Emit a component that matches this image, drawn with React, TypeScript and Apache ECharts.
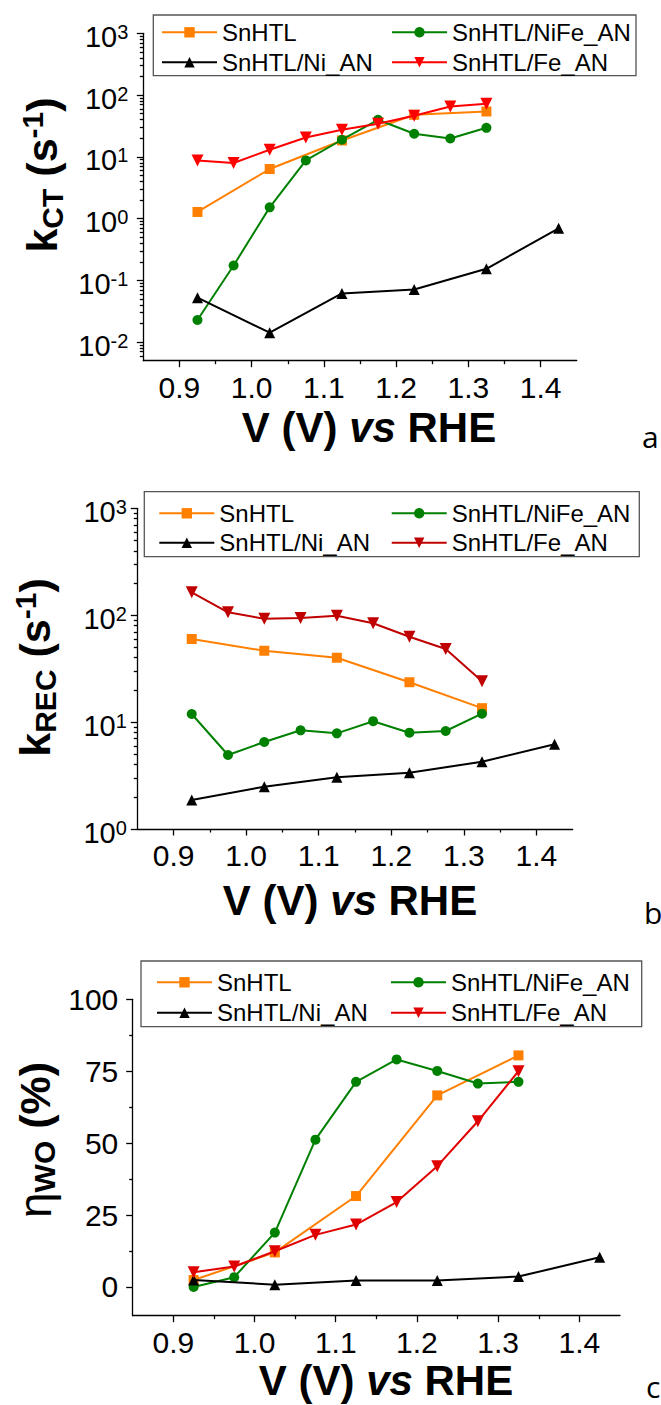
import React, { useEffect, useRef } from 'react';
import * as echarts from 'echarts';

// ---------- data ----------
const V_ALL = [0.925, 0.975, 1.025, 1.075, 1.125, 1.175, 1.225, 1.275, 1.325];
const V_HALF = [0.925, 1.025, 1.125, 1.225, 1.325];
const V_NI = [0.925, 1.025, 1.125, 1.225, 1.325, 1.425];

const SERIES_NAMES = ['SnHTL', 'SnHTL/NiFe_AN', 'SnHTL/Ni_AN', 'SnHTL/Fe_AN'];

// panel a: k_CT (s^-1)
const KCT_SNHTL = [1.28, 6.35, 18.4, 47.9, 54.2];
const KCT_NIFE = [0.0228, 0.174, 1.52, 8.75, 18.9, 39.8, 23.6, 19.8, 29.5];
const KCT_NI = [0.0524, 0.0142, 0.0615, 0.0713, 0.154, 0.697];
const KCT_FE = [8.75, 7.94, 13.0, 20.6, 27.4, 34.3, 46.1, 65.2, 72.1];

// panel b: k_REC (s^-1)
const KREC_SNHTL = [59.9, 46.5, 40.0, 23.6, 13.5];
const KREC_NIFE = [11.9, 4.92, 6.52, 8.38, 7.85, 10.2, 7.96, 8.26, 12.0];
const KREC_NI = [1.87, 2.49, 3.05, 3.36, 4.26, 6.2];
const KREC_FE = [163.7, 106.4, 92.7, 94.2, 98.9, 84.0, 62.9, 48.3, 24.1];

// panel c: eta_WO (%)
const ETA_SNHTL = [2.4, 12.0, 31.6, 66.6, 80.5];
const ETA_NIFE = [0, 3.4, 18.9, 51.2, 71.3, 79.1, 75.1, 70.7, 71.3];
const ETA_NI = [2.4, 0.8, 2.2, 2.2, 3.6, 10.3];
const ETA_FE = [5.1, 7.1, 12.4, 18.1, 21.7, 29.5, 42.0, 57.6, 75.0];

// ticks
const X_TICKS = [0.9, 1.0, 1.1, 1.2, 1.3, 1.4];
const X_MINOR = [0.95, 1.05, 1.15, 1.25, 1.35];
const LOG_TICKS_A = [0.01, 0.1, 1, 10, 100, 1000];
const LOG_TICKS_B = [1, 10, 100, 1000];
const ETA_TICKS = [0, 25, 50, 75, 100];
const ETA_MINOR = [12.5, 37.5, 62.5, 87.5];

// ---------- style ----------
const FONT = '"Liberation Sans", Arial, Helvetica, sans-serif';
const ORANGE = '#FF8000';
const GREEN = '#008000';
const BLACK = '#000000';
const RED_A = '#FF0000';
const RED_B = '#C00000';
const RED_C = '#E00000';

function logMinor(lo: number, hi: number): number[] {
  const out: number[] = [];
  for (let e = -3; e <= 3; e++) {
    for (let k = 2; k <= 9; k++) {
      const v = +(k * Math.pow(10, e)).toPrecision(3);
      if (v > lo && v < hi) out.push(v);
    }
  }
  return out;
}

const AXIS_LINE = { color: '#000', width: 1.3 };

const GRIDS = [
  { left: 143.3, top: 33.3, width: 433.4, height: 327.4 },
  { left: 137.3, top: 508.3, width: 435.4, height: 320.7 },
  { left: 132.7, top: 999.3, width: 487.3, height: 316.4 },
];

function xAxes(gi: number) {
  return [
    {
      type: 'value', gridIndex: gi, position: 'bottom', min: 0.85, max: 1.45,
      axisLine: { show: true, onZero: false, lineStyle: AXIS_LINE },
      axisTick: { show: true, inside: false, length: 6.5, customValues: X_TICKS, lineStyle: AXIS_LINE },
      axisLabel: {
        show: true, customValues: X_TICKS, margin: 11.5,
        formatter: (v: number) => v.toFixed(1),
        fontSize: 30, fontFamily: FONT, color: '#000',
      },
      splitLine: { show: false },
    },
    {
      type: 'value', gridIndex: gi, position: 'bottom', min: 0.85, max: 1.45,
      axisLine: { show: false, onZero: false },
      axisTick: { show: true, inside: false, length: 3.5, customValues: X_MINOR, lineStyle: AXIS_LINE },
      axisLabel: { show: false },
      splitLine: { show: false },
    },
  ];
}

const LOG_RICH = {
  b: { fontSize: 29, fontFamily: FONT, color: '#000', lineHeight: 30 },
  s: { fontSize: 20, fontFamily: FONT, color: '#000', lineHeight: 16, verticalAlign: 'top' },
};

function logLabel(v: number) {
  const e = Math.round(Math.log10(v));
  return `{b|10}{s|${e}}`;
}

function logYAxes(gi: number, min: number, max: number, ticks: number[], margin: number) {
  return [
    {
      type: 'log', logBase: 10, gridIndex: gi, position: 'left', min, max,
      axisLine: { show: true, onZero: false, lineStyle: AXIS_LINE },
      axisTick: { show: true, inside: false, length: 6.5, customValues: ticks, lineStyle: AXIS_LINE },
      axisLabel: {
        show: true, customValues: ticks, margin, formatter: logLabel,
        rich: LOG_RICH, padding: [7, 0, 0, 0],
      },
      splitLine: { show: false },
      minorSplitLine: { show: false },
    },
    {
      type: 'log', logBase: 10, gridIndex: gi, position: 'left', min, max,
      axisLine: { show: false, onZero: false },
      axisTick: { show: true, inside: false, length: 3.5, customValues: logMinor(min, max), lineStyle: AXIS_LINE },
      axisLabel: { show: false },
      splitLine: { show: false },
    },
  ];
}

function etaYAxes(gi: number) {
  return [
    {
      type: 'value', gridIndex: gi, position: 'left', min: -10, max: 100,
      axisLine: { show: true, onZero: false, lineStyle: AXIS_LINE },
      axisTick: { show: true, inside: false, length: 6.5, customValues: ETA_TICKS, lineStyle: AXIS_LINE },
      axisLabel: {
        show: true, customValues: ETA_TICKS, margin: 14.4,
        formatter: (v: number) => String(v),
        fontSize: 30, fontFamily: FONT, color: '#000',
      },
      splitLine: { show: false },
    },
    {
      type: 'value', gridIndex: gi, position: 'left', min: -10, max: 100,
      axisLine: { show: false, onZero: false },
      axisTick: { show: true, inside: false, length: 3.5, customValues: ETA_MINOR, lineStyle: AXIS_LINE },
      axisLabel: { show: false },
      splitLine: { show: false },
    },
  ];
}

function mk(name: string, xs: number[], ys: number[], gi: number, color: string,
  symbol: string, size: number, rotate = 0, z = 2) {
  return {
    type: 'line', name, xAxisIndex: gi * 2, yAxisIndex: gi * 2,
    data: xs.map((x, i) => [x, ys[i]]),
    symbol, symbolSize: size, symbolRotate: rotate, showAllSymbol: true,
    lineStyle: { color, width: 2 }, itemStyle: { color },
    emphasis: { disabled: true }, z, silent: true,
  };
}

function panelSeries(gi: number, sn: number[], nife: number[], ni: number[], fe: number[], red: string) {
  return [
    mk(SERIES_NAMES[0], V_HALF, sn, gi, ORANGE, 'rect', 10, 0, 2),
    mk(SERIES_NAMES[1], V_ALL, nife, gi, GREEN, 'circle', 10, 0, 3),
    mk(SERIES_NAMES[2], V_NI, ni, gi, BLACK, 'triangle', 11, 0, 4),
    mk(SERIES_NAMES[3], V_ALL, fe, gi, red, 'triangle', 12, 180, 5),
  ];
}

function legendCol(left: number, top: number, gap: number, names: string[], colors: string[]) {
  return {
    orient: 'vertical', left, top, padding: 0, itemGap: gap,
    itemWidth: 55, itemHeight: 13, selectedMode: false,
    textStyle: { fontSize: 24, fontFamily: FONT, color: '#000', lineHeight: 24 },
    data: names.map((n, i) => ({
      name: n,
      itemStyle: { color: colors[i] },
      lineStyle: { color: colors[i], width: 2 },
    })),
  };
}

function legendsFor(box: { col1: number; col2: number; row1: number; row2: number }, red: string) {
  const gap = box.row2 - box.row1 - 24;
  const top = box.row1 - 12;
  return [
    legendCol(box.col1, top, gap, [SERIES_NAMES[0], SERIES_NAMES[2]], [ORANGE, BLACK]),
    legendCol(box.col2, top, gap, [SERIES_NAMES[1], SERIES_NAMES[3]], [GREEN, red]),
  ];
}

const BOX_STYLE = { fill: 'none', stroke: '#555', lineWidth: 1.3 };

const XT_RICH = {
  n: { fontSize: 42, fontWeight: 'bold', fontFamily: FONT, color: '#000' },
  i: { fontSize: 42, fontWeight: 'bold', fontStyle: 'italic', fontFamily: FONT, color: '#000' },
};
const YT_RICH = {
  m: { fontSize: 43, fontWeight: 'bold', fontFamily: FONT, color: '#000', lineHeight: 50 },
  g: { fontSize: 46, fontWeight: 'normal', fontFamily: FONT, color: '#000', lineHeight: 50 },
  sub: { fontSize: 30, fontWeight: 'bold', fontFamily: FONT, color: '#000', lineHeight: 14, verticalAlign: 'bottom' },
  sup: { fontSize: 30, fontWeight: 'bold', fontFamily: FONT, color: '#000', lineHeight: 20, verticalAlign: 'top' },
};

function xTitle(x: number, y: number) {
  return {
    type: 'text', x, y, silent: true,
    style: { text: '{n|V (V) }{i|vs}{n| RHE}', rich: XT_RICH, align: 'center', verticalAlign: 'middle' },
  };
}
function yTitle(x: number, y: number, text: string) {
  return {
    type: 'text', x, y, rotation: Math.PI / 2, silent: true,
    style: { text, rich: YT_RICH, align: 'center', verticalAlign: 'middle' },
  };
}
function panelLetter(x: number, y: number, t: string) {
  return {
    type: 'text', x, y, silent: true,
    style: { text: t, fontSize: 30, fontFamily: '"Open Sans", "Noto Sans", sans-serif', fill: '#000', align: 'left', verticalAlign: 'middle' },
  };
}

const option = {
  animation: false,
  backgroundColor: '#ffffff',
  grid: GRIDS.map(g => ({ ...g, containLabel: false, outerBoundsMode: 'none' })),
  xAxis: [...xAxes(0), ...xAxes(1), ...xAxes(2)],
  yAxis: [
    ...logYAxes(0, 0.005, 1000, LOG_TICKS_A, 15),
    ...logYAxes(1, 1, 1000, LOG_TICKS_B, 10.5),
    ...etaYAxes(2),
  ],
  legend: [
    ...legendsFor({ col1: 161, col2: 391, row1: 32.3, row2: 62.3 }, RED_A),
    ...legendsFor({ col1: 158.3, col2: 390.7, row1: 513.3, row2: 542.7 }, RED_B),
    ...legendsFor({ col1: 156, col2: 390, row1: 982.3, row2: 1012.7 }, RED_C),
  ],
  series: [
    ...panelSeries(0, KCT_SNHTL, KCT_NIFE, KCT_NI, KCT_FE, RED_A),
    ...panelSeries(1, KREC_SNHTL, KREC_NIFE, KREC_NI, KREC_FE, RED_B),
    ...panelSeries(2, ETA_SNHTL, ETA_NIFE, ETA_NI, ETA_FE, RED_C),
  ],
  graphic: [
    { type: 'rect', silent: true, shape: { x: 153.3, y: 15, width: 482.7, height: 60.7 }, style: BOX_STYLE },
    { type: 'rect', silent: true, shape: { x: 144.3, y: 491.7, width: 495, height: 65 }, style: BOX_STYLE },
    { type: 'rect', silent: true, shape: { x: 141, y: 961, width: 500.7, height: 65.7 }, style: BOX_STYLE },
    xTitle(369, 427.5),
    xTitle(350, 900),
    xTitle(386, 1380),
    yTitle(42, 175, '{m|k}{sub|CT}{m| (s}{sup|-1}{m|)}'),
    yTitle(35.4, 667.5, '{m|k}{sub|REC}{m| (s}{sup|-1}{m|)}'),
    yTitle(34.5, 1140, '{g|η}{sub|WO}{m| (%)}'),
    panelLetter(642, 436.4, 'a'),
    panelLetter(644, 912.4, 'b'),
    panelLetter(646, 1386, 'c'),
  ],
};

export default function App() {
  const ref = useRef<HTMLDivElement>(null);
  useEffect(() => {
    document.body.style.margin = '0';
    const chart = echarts.init(ref.current as HTMLDivElement, null, { renderer: 'svg' });
    chart.setOption(option as any);
    return () => chart.dispose();
  }, []);
  return (
    <div
      ref={ref}
      style={{ position: 'absolute', left: 0, top: 0, width: 661, height: 1405, background: '#fff' }}
    />
  );
}
